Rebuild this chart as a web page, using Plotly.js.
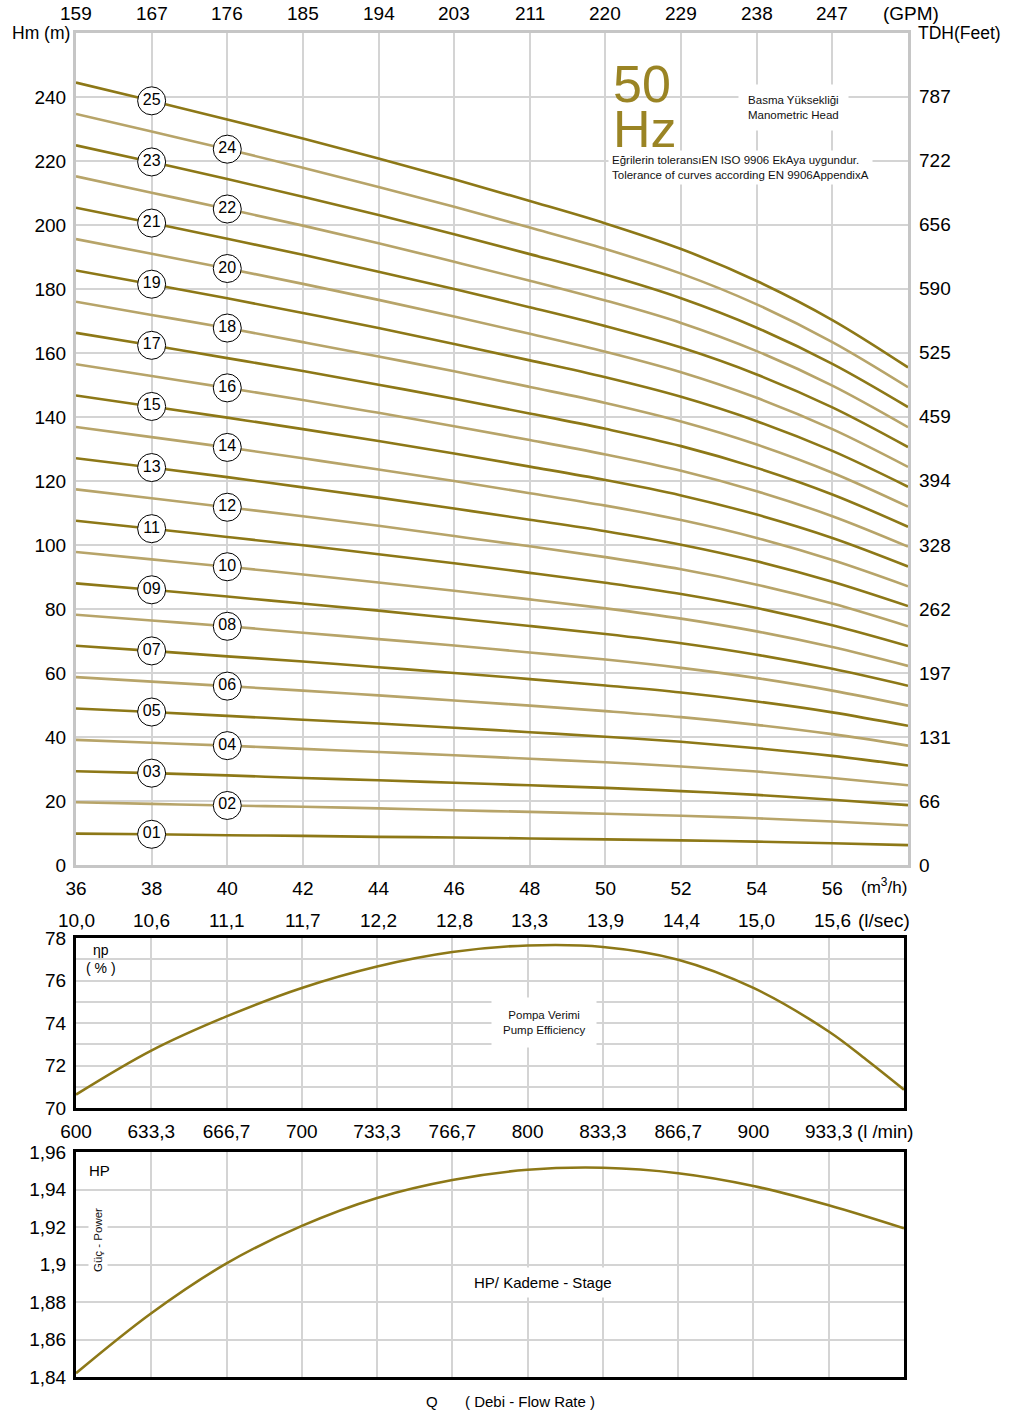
<!DOCTYPE html>
<html><head><meta charset="utf-8">
<script src="https://cdn.plot.ly/plotly-3.0.1.min.js"></script>
<style>html,body{margin:0;padding:0;background:#fff}</style>
</head><body><div id="chart" style="width:1009px;height:1414px"></div>
<script>
// ---------- data ----------
const flowM3h = [36,38,40,42,44,46,48,50,52,54,56,58];
const flowTicks = [36,38,40,42,44,46,48,50,52,54,56];
const m3hLabels = ['36','38','40','42','44','46','48','50','52','54','56'];
const gpmLabels = ['159','167','176','185','194','203','211','220','229','238','247'];
const lsecLabels = ['10,0','10,6','11,1','11,7','12,2','12,8','13,3','13,9','14,4','15,0','15,6'];
const lminLabels = ['600','633,3','666,7','700','733,3','766,7','800','833,3','866,7','900','933,3'];
const headTicks = [0,20,40,60,80,100,120,140,160,180,200,220,240];
const feetLabels = ['0','66','131','197','262','328','394','459','525','590','656','722','787'];
const stageLabels = ['01','02','03','04','05','06','07','08','09','10','11','12','13','14','15','16','17','18','19','20','21','22','23','24','25'];
const stageHeads = [
  [9.8,9.6,9.3,9.1,8.8,8.6,8.3,8.0,7.7,7.3,6.8,6.2],
  [19.6,19.1,18.6,18.2,17.7,17.1,16.6,16.0,15.4,14.6,13.6,12.4],
  [29.3,28.7,28.0,27.2,26.5,25.7,24.9,24.1,23.1,21.9,20.4,18.7],
  [39.1,38.2,37.3,36.3,35.3,34.3,33.2,32.1,30.8,29.2,27.2,24.9],
  [48.9,47.8,46.6,45.4,44.2,42.9,41.5,40.1,38.5,36.5,34.1,31.1],
  [58.7,57.3,55.9,54.5,53.0,51.4,49.8,48.1,46.2,43.8,40.9,37.3],
  [68.5,66.9,65.2,63.6,61.8,60.0,58.1,56.1,53.9,51.1,47.7,43.5],
  [78.2,76.4,74.6,72.6,70.6,68.6,66.4,64.2,61.6,58.4,54.5,49.8],
  [88.0,86.0,83.9,81.7,79.5,77.1,74.7,72.2,69.3,65.7,61.3,56.0],
  [97.8,95.5,93.2,90.8,88.3,85.7,83.0,80.2,77.0,73.0,68.1,62.2],
  [107.6,105.1,102.5,99.9,97.1,94.3,91.3,88.2,84.7,80.3,74.9,68.4],
  [117.4,114.6,111.8,109.0,106.0,102.8,99.6,96.2,92.4,87.6,81.7,74.6],
  [127.1,124.2,121.2,118.0,114.8,111.4,107.9,104.3,100.1,94.9,88.5,80.9],
  [136.9,133.7,130.5,127.1,123.6,120.0,116.2,112.3,107.8,102.2,95.3,87.1],
  [146.7,143.3,139.8,136.2,132.5,128.6,124.5,120.3,115.5,109.5,102.2,93.3],
  [156.5,152.8,149.1,145.3,141.3,137.1,132.8,128.3,123.2,116.8,109.0,99.5],
  [166.3,162.4,158.4,154.4,150.1,145.7,141.1,136.3,130.9,124.1,115.8,105.7],
  [176.0,171.9,167.8,163.4,158.9,154.3,149.4,144.4,138.6,131.4,122.6,112.0],
  [185.8,181.5,177.1,172.5,167.8,162.8,157.7,152.4,146.3,138.7,129.4,118.2],
  [195.6,191.0,186.4,181.6,176.6,171.4,166.0,160.4,154.0,146.0,136.2,124.4],
  [205.4,200.6,195.7,190.7,185.4,180.0,174.3,168.4,161.7,153.3,143.0,130.6],
  [215.2,210.1,205.0,199.8,194.3,188.5,182.6,176.4,169.4,160.6,149.8,136.8],
  [224.9,219.7,214.4,208.8,203.1,197.1,190.9,184.5,177.1,167.9,156.6,143.1],
  [234.7,229.2,223.7,217.9,211.9,205.7,199.2,192.5,184.8,175.2,163.4,149.3],
  [244.5,238.8,233.0,227.0,220.8,214.3,207.5,200.5,192.5,182.5,170.3,155.5]
];
const effFlow = [36,38,40,42,44,46,48,50,52,54,56,57,58];
const efficiency = [70.63,72.7,74.31,75.65,76.66,77.34,77.65,77.58,76.98,75.65,73.6,72.27,70.86];
const powerFlow = [36,38,40,42,44,46,48,50,52,54,56,58];
const powerHP = [1.842,1.874,1.9006,1.9206,1.9355,1.9451,1.9505,1.9516,1.9487,1.9419,1.9316,1.9193];
const powerTicks = [1.84,1.86,1.88,1.90,1.92,1.94,1.96];
const powerLabels = ['1,84','1,86','1,88','1,9','1,92','1,94','1,96'];

// ---------- style ----------
const W = 1009, H = 1414;
const px = v => v / W;
const py = v => 1 - v / H;
const FONT = "'Liberation Sans', Arial, sans-serif";
const DARK = '#8d7817';
const LIGHT = '#b7a469';
const GRID = '#d4d4d4';

const traces = [];
stageHeads.forEach((h, i) => {
  traces.push({
    x: flowM3h, y: h, type: 'scatter', mode: 'lines',
    line: {color: i % 2 === 0 ? DARK : LIGHT, width: 2.6, shape: 'spline', smoothing: 1.0},
    xaxis: 'x', yaxis: 'y', hoverinfo: 'skip'
  });
});
const lblX = [], lblY = [], lblT = [];
stageHeads.forEach((h, i) => {
  const q = (i % 2 === 0) ? 38 : 40;
  lblX.push(q); lblY.push(h[flowM3h.indexOf(q)]); lblT.push(stageLabels[i]);
});
traces.push({
  x: lblX, y: lblY, text: lblT, type: 'scatter', mode: 'markers+text',
  marker: {symbol: 'circle', size: 28, color: '#ffffff', line: {color: '#000000', width: 1}},
  textposition: 'middle center', textfont: {family: FONT, size: 16, color: '#000'},
  xaxis: 'x', yaxis: 'y', hoverinfo: 'skip', cliponaxis: false
});
traces.push({
  x: effFlow, y: efficiency, type: 'scatter', mode: 'lines',
  line: {color: DARK, width: 2.6, shape: 'spline', smoothing: 1.0},
  xaxis: 'x3', yaxis: 'y3', hoverinfo: 'skip'
});
traces.push({
  x: powerFlow, y: powerHP, type: 'scatter', mode: 'lines',
  line: {color: DARK, width: 2.6, shape: 'spline', smoothing: 1.0},
  xaxis: 'x5', yaxis: 'y5', hoverinfo: 'skip'
});

const topDom = [py(865), py(33)];
const midDom = [py(1108), py(938)];
const botDom = [py(1377), py(1152)];
const xDomTop = [px(76), px(908)];
const xDomLow = [px(76), px(904)];
const lowRange = [36, 58];
const tf = {family: FONT, size: 19, color: '#000'};
const hidTick = {ticks: 'outside', tickcolor: 'rgba(0,0,0,0)'};

const ann = [];
const note = (text, x, y, o) => ann.push(Object.assign({text, x: px(x), y: py(y), xref: 'paper', yref: 'paper',
  showarrow: false, xanchor: 'center', yanchor: 'middle'}, o || {}));

// secondary scales
flowTicks.forEach((q, i) => {
  ann.push({text: gpmLabels[i], x: q, xref: 'x', y: py(13), yref: 'paper', showarrow: false,
    xanchor: 'center', yanchor: 'middle', font: tf});
  ann.push({text: lsecLabels[i], x: q, xref: 'x', y: py(920), yref: 'paper', showarrow: false,
    xanchor: 'center', yanchor: 'middle', font: tf});
});
headTicks.forEach((v, i) => {
  ann.push({text: feetLabels[i], x: px(917), xref: 'paper', y: v, yref: 'y', showarrow: false,
    xanchor: 'left', yanchor: 'middle', font: tf});
});

note('Hm (m)', 41, 33, {font: {size: 17.5}});
note('TDH(Feet)', 959, 33, {font: {size: 17.5}});
note('(GPM)', 911, 13, {font: {size: 19}});
note('(m<sup>3</sup>/h)', 884, 886, {font: {size: 17}});
note('(l/sec)', 884, 920, {font: {size: 19}});
note('(l /min)', 885, 1131, {font: {size: 18.5}});
note('50', 611, 84, {xanchor: 'left', font: {size: 52, color: '#9a8424'}});
note('Hz', 611, 129, {xanchor: 'left', font: {size: 52, color: '#9a8424'}});
note('Basma Yüksekliği<br>Manometric Head', 793, 108, {align: 'center', bgcolor: '#fff', borderpad: 9, font: {size: 11.5, color: '#111'}});
note('Eğrilerin toleransıEN ISO 9906 EkAya uygundur.<br>Tolerance of curves according EN 9906AppendixA', 608, 167,
  {xanchor: 'left', align: 'left', bgcolor: '#fff', borderpad: 3, font: {size: 11.5, color: '#111'}});
note('ηp', 101, 950, {font: {size: 14}});
note('( % )', 101, 968, {font: {size: 14}});
note('Pompa Verimi<br>Pump Efficiency', 544, 1022, {align: 'center', bgcolor: '#fff', borderpad: 11, font: {size: 11.5, color: '#111'}});
note('HP', 99, 1170, {font: {size: 15}});
note('Güç - Power', 98, 1240, {textangle: -90, bgcolor: '#fff', borderpad: 3, font: {size: 11.5, color: '#111'}});
note('HP/ Kademe - Stage', 543, 1282, {bgcolor: '#fff', borderpad: 6, font: {size: 15}});
note('Q', 432, 1401, {font: {size: 15}});
note('( Debi - Flow Rate )', 530, 1401, {font: {size: 15}});

const layout = {
  width: W, height: H, margin: {l: 0, r: 0, t: 0, b: 0},
  paper_bgcolor: '#fff', plot_bgcolor: '#fff', showlegend: false,
  font: {family: FONT, color: '#000'},
  xaxis: Object.assign({domain: xDomTop, range: [36, 58], anchor: 'y', tickmode: 'array',
    tickvals: flowTicks, ticktext: m3hLabels, tickfont: tf, ticklen: 4,
    showgrid: true, gridcolor: GRID, gridwidth: 2, zeroline: false,
    showline: true, mirror: true, linecolor: '#c6c6c6', linewidth: 3}, hidTick),
  yaxis: Object.assign({domain: topDom, range: [0, 260], anchor: 'x', tickmode: 'array',
    tickvals: headTicks, ticktext: headTicks.map(String), tickfont: tf, ticklen: 3,
    showgrid: true, gridcolor: GRID, gridwidth: 2, zeroline: false,
    showline: true, mirror: true, linecolor: '#c6c6c6', linewidth: 3}, hidTick),
  xaxis3: Object.assign({domain: xDomLow, range: lowRange, anchor: 'y3', tickmode: 'array',
    tickvals: flowTicks, ticktext: lminLabels, tickfont: tf, ticklen: 4,
    showgrid: true, gridcolor: GRID, gridwidth: 2, zeroline: false,
    showline: true, mirror: true, linecolor: '#000', linewidth: 3}, hidTick),
  yaxis3: Object.assign({domain: midDom, range: [70, 78], anchor: 'x3', tickmode: 'linear',
    tick0: 70, dtick: 2, tickfont: tf, ticklen: 3,
    minor: {dtick: 1, tick0: 70, showgrid: true, gridcolor: GRID, gridwidth: 2, ticks: ''},
    showgrid: true, gridcolor: GRID, gridwidth: 2, zeroline: false,
    showline: true, mirror: true, linecolor: '#000', linewidth: 3}, hidTick),
  xaxis5: {domain: xDomLow, range: lowRange, anchor: 'y5', tickmode: 'array',
    tickvals: flowTicks, showticklabels: false, ticks: '',
    showgrid: true, gridcolor: GRID, gridwidth: 2, zeroline: false,
    showline: true, mirror: true, linecolor: '#000', linewidth: 3},
  yaxis5: Object.assign({domain: botDom, range: [1.84, 1.96], anchor: 'x5', tickmode: 'array',
    tickvals: powerTicks, ticktext: powerLabels, tickfont: tf, ticklen: 3,
    showgrid: true, gridcolor: GRID, gridwidth: 2, zeroline: false,
    showline: true, mirror: true, linecolor: '#000', linewidth: 3}, hidTick),
  annotations: ann
};

Plotly.newPlot('chart', traces, layout, {displayModeBar: false, staticPlot: true});
</script>
</body></html>
